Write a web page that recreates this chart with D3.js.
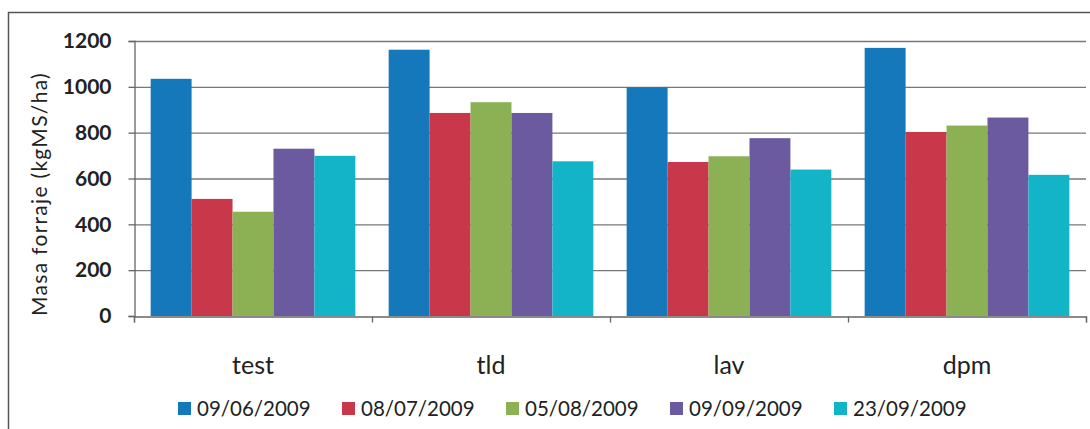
<!DOCTYPE html>
<html><head><meta charset="utf-8">
<script src="https://cdn.jsdelivr.net/npm/d3@7"></script>
<style>body{margin:0;background:#fff}svg{display:block}text{font-family:Lato,"Open Sans",sans-serif}</style>
</head><body><svg id="c" width="1090" height="429"></svg>
<script>
const categories = ["test", "tld", "lav", "dpm"];
const seriesNames = ["09/06/2009", "08/07/2009", "05/08/2009", "09/09/2009", "23/09/2009"];
const s0906 = [1035, 1162, 998, 1170];
const s0807 = [511, 886, 672, 803];
const s0508 = [455, 933, 697, 831];
const s0909 = [730, 886, 776, 866];
const s2309 = [699, 675, 639, 616];
const yTicks = [0, 200, 400, 600, 800, 1000, 1200];
const colors = ["#1478BA", "#C8374A", "#8CB155", "#6C5AA0", "#14B4C8"];
const seriesValues = [s0906, s0807, s0508, s0909, s2309];

const svg = d3.select("#c");
svg.append("path").attr("d", "M8.5,429 V12.5 H1090").attr("fill", "none").attr("stroke", "#555").attr("stroke-width", 1.5);

const x0 = d3.scaleBand().domain(categories).range([134, 1086]).paddingInner(0.14).paddingOuter(0.07);
const x1 = d3.scaleBand().domain(seriesNames).range([0, x0.bandwidth()]);
const y = d3.scaleLinear().domain([0, 1200]).range([316, 41]);

svg.append("g").selectAll("line").data(yTicks.filter(d => d > 0)).join("line")
  .attr("x1", 134).attr("x2", 1086).attr("y1", d => y(d) + 0.5).attr("y2", d => y(d) + 0.5)
  .attr("stroke", "#777").attr("stroke-width", 1.3);

const g = svg.append("g");
categories.forEach((c, i) => {
  seriesNames.forEach((s, j) => {
    g.append("rect").attr("x", x0(c) + x1(s)).attr("width", x1.bandwidth())
      .attr("y", y(seriesValues[j][i])).attr("height", y(0) - y(seriesValues[j][i]))
      .attr("fill", colors[j]);
  });
});

const ya = d3.axisLeft(y).tickValues(yTicks).tickSize(6).tickPadding(17).tickFormat(d3.format("d"));
const yg = svg.append("g").attr("transform", "translate(134.5,0)").call(ya);
yg.select(".domain").attr("stroke", "#666").attr("stroke-width", 1.3);
yg.selectAll(".tick line").attr("stroke", "#666").attr("stroke-width", 1.3);
yg.selectAll(".tick text").attr("font-size", 21).attr("font-weight", "bold").attr("fill", "#222")
  .attr("font-family", "Lato, sans-serif");

const xb = d3.scaleLinear().domain([0, 4]).range([134, 1086]);
const xa = d3.axisBottom(xb).tickValues([0, 1, 2, 3, 4]).tickSize(6).tickFormat("");
const xg = svg.append("g").attr("transform", "translate(0,316.5)").call(xa);
xg.select(".domain").attr("stroke", "#666").attr("stroke-width", 1.3);
xg.selectAll(".tick line").attr("stroke", "#666").attr("stroke-width", 1.3);

svg.append("g").selectAll("text").data(categories).join("text")
  .attr("x", d => x0(d) + x0.bandwidth() / 2).attr("y", 374)
  .attr("text-anchor", "middle").attr("font-size", 25).attr("fill", "#222").text(d => d);

svg.append("text").attr("transform", "translate(47,194) rotate(-90)")
  .attr("text-anchor", "middle").attr("font-size", 21).attr("fill", "#222")
  .attr("letter-spacing", 1.3).text("Masa forraje (kgMS/ha)");

const lg = svg.append("g").selectAll("g").data(seriesNames).join("g")
  .attr("transform", (d, i) => `translate(${178 + i * 164},402)`);
lg.append("rect").attr("width", 13).attr("height", 13).attr("fill", (d, i) => colors[i]);
lg.append("text").attr("x", 19).attr("y", 14).attr("font-size", 20.5).attr("fill", "#222").text(d => d);
</script></body></html>
